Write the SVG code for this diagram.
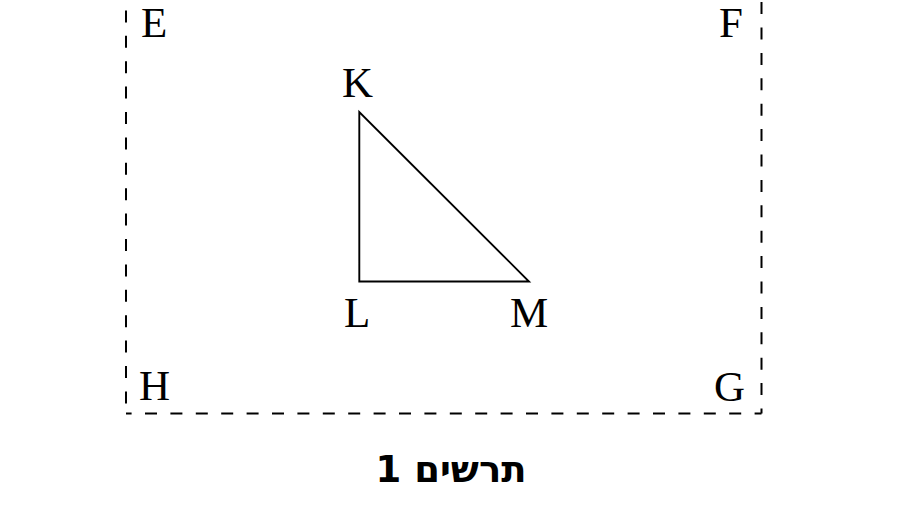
<svg xmlns="http://www.w3.org/2000/svg" width="916" height="517" viewBox="0 0 916 517">
<style>
.lbl{font-family:"Liberation Serif","Times New Roman",serif;font-size:43px;fill:#000}
.dash{fill:none;stroke:#000;stroke-width:2;stroke-dasharray:12 13.4}
.cap{font-family:"DejaVu Sans","Liberation Sans",Arial,sans-serif;font-size:37px;font-weight:bold;fill:#000}
</style>
<rect width="916" height="517" fill="#fff"/>
<g id="connectors">
<path id="rect-left" class="dash" d="M126,-15 V413.5" stroke-dashoffset="0"/>
<path id="rect-bottom" class="dash" d="M126,413.5 H761.5" stroke-dashoffset="6.4"/>
<path id="rect-right" class="dash" d="M761.5,413.5 V-15" stroke-dashoffset="7"/>
<path id="triangle" d="M359.3,112 V281.5 H529 Z" fill="none" stroke="#000" stroke-width="1.9" stroke-linejoin="miter"/>
</g>
<g id="node-E"><text class="lbl" x="141" y="37">E</text></g>
<g id="node-F"><text class="lbl" x="719" y="37">F</text></g>
<g id="node-H"><text class="lbl" x="139" y="400">H</text></g>
<g id="node-G"><text class="lbl" x="714" y="401">G</text></g>
<g id="node-K"><text class="lbl" x="342" y="97">K</text></g>
<g id="node-L"><text class="lbl" x="344" y="327">L</text></g>
<g id="node-M"><text class="lbl" x="510" y="327">M</text></g>
<g id="caption"><text class="cap" x="451" y="482" text-anchor="middle" direction="rtl">תרשים 1</text></g>
</svg>
